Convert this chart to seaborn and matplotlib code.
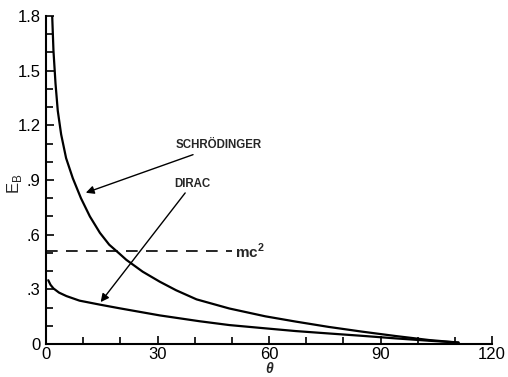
import numpy as np
import pandas as pd
import matplotlib
matplotlib.use("Agg")
import matplotlib.pyplot as plt
from matplotlib.ticker import MultipleLocator, FixedLocator
import seaborn as sns

sns.set_style("ticks")
plt.rcParams["font.family"] = ["Liberation Sans", "DejaVu Sans"]

# -------------------------------------------------------
# values
# -------------------------------------------------------

theta_schrod = [1.66, 2.0, 2.55, 3.16, 4.07, 5.4, 7.2, 9.4, 11.8, 14.5, 17, 19.8, 21.6,
                26, 30.6, 35, 40.5, 49.3, 59, 67.2, 76, 85, 94, 103, 111]
e_schrod     = [1.80, 1.61, 1.43, 1.28, 1.15, 1.02, 0.91, 0.80, 0.70, 0.61, 0.545, 0.495, 0.462,
                0.397, 0.342, 0.295, 0.245, 0.195, 0.152, 0.123, 0.094, 0.068, 0.044, 0.022, 0.008]

theta_dirac = [0.6, 1.2, 2.0, 3.5, 5.5, 9, 14.5, 19.8, 23.4, 30.6, 41.3, 49.3, 59, 67.2,
               76, 85, 94, 103, 111]
e_dirac     = [0.35, 0.325, 0.305, 0.282, 0.263, 0.238, 0.216, 0.196, 0.183, 0.157, 0.125,
               0.104, 0.086, 0.071, 0.058, 0.045, 0.031, 0.018, 0.008]

mc2_theta = [0, 50]
mc2_value = [0.51, 0.51]

x_ticks = [0, 30, 60, 90, 120]
x_labels = ["0", "30", "60", "90", "120"]
y_ticks = [0, 0.3, 0.6, 0.9, 1.2, 1.5, 1.8]
y_labels = ["0", ".3", ".6", ".9", "1.2", "1.5", "1.8"]

schrod = pd.DataFrame({"theta": theta_schrod, "E": e_schrod})
dirac = pd.DataFrame({"theta": theta_dirac, "E": e_dirac})
mc2 = pd.DataFrame({"theta": mc2_theta, "E": mc2_value})

# -------------------------------------------------------
# plot
# -------------------------------------------------------

fig = plt.figure(figsize=(5.08, 3.77), dpi=100)
ax = fig.add_axes([0.0906, 0.0875, 0.8779, 0.8701])

sns.lineplot(data=schrod, x="theta", y="E", color="black", lw=1.6, sort=False, ax=ax)
sns.lineplot(data=dirac, x="theta", y="E", color="black", lw=1.6, sort=False, ax=ax)
sns.lineplot(data=mc2, x="theta", y="E", color="black", lw=1.2, ax=ax)
ax.lines[-1].set_dashes((7, 5))

ax.set_xlim(0, 120)
ax.set_ylim(0, 1.8)
ax.xaxis.set_major_locator(FixedLocator(x_ticks))
ax.set_xticklabels(x_labels)
ax.yaxis.set_major_locator(FixedLocator(y_ticks))
ax.set_yticklabels(y_labels)
ax.xaxis.set_minor_locator(MultipleLocator(10))
ax.yaxis.set_minor_locator(MultipleLocator(0.1))
ax.tick_params(which="both", direction="in", width=1.2, color="black",
               labelsize=12, labelcolor="black")
ax.tick_params(which="major", length=6)
ax.tick_params(which="minor", length=5)
ax.tick_params(axis="x", pad=2)
ax.tick_params(axis="y", pad=4)

sns.despine(ax=ax)
for s in ["left", "bottom"]:
    ax.spines[s].set_linewidth(1.5)
    ax.spines[s].set_color("black")

ax.set_xlabel("θ", fontsize=10, fontstyle="italic", fontweight="bold", labelpad=0)
ax.set_ylabel(r"E$_\mathregular{B}$", fontsize=12)
ax.yaxis.set_label_coords(-0.05, 0.49)

ax.text(50.8, 0.51, r"mc$^\mathregular{2}$", fontsize=11, fontweight="bold",
        va="center", ha="left")

ax.annotate("SCHRÖDINGER", xy=(10.7, 0.83), xytext=(35, 1.09),
            fontsize=8.3, fontweight="bold", va="center", ha="left",
            arrowprops=dict(arrowstyle="-|>", color="black", lw=1.0,
                            mutation_scale=12, shrinkA=0, shrinkB=0))
ax.annotate("DIRAC", xy=(14.7, 0.23), xytext=(34.5, 0.88),
            fontsize=8.3, fontweight="bold", va="center", ha="left",
            arrowprops=dict(arrowstyle="-|>", color="black", lw=1.0,
                            mutation_scale=12, shrinkA=0, shrinkB=0))

fig.savefig("out.png", dpi=100)
